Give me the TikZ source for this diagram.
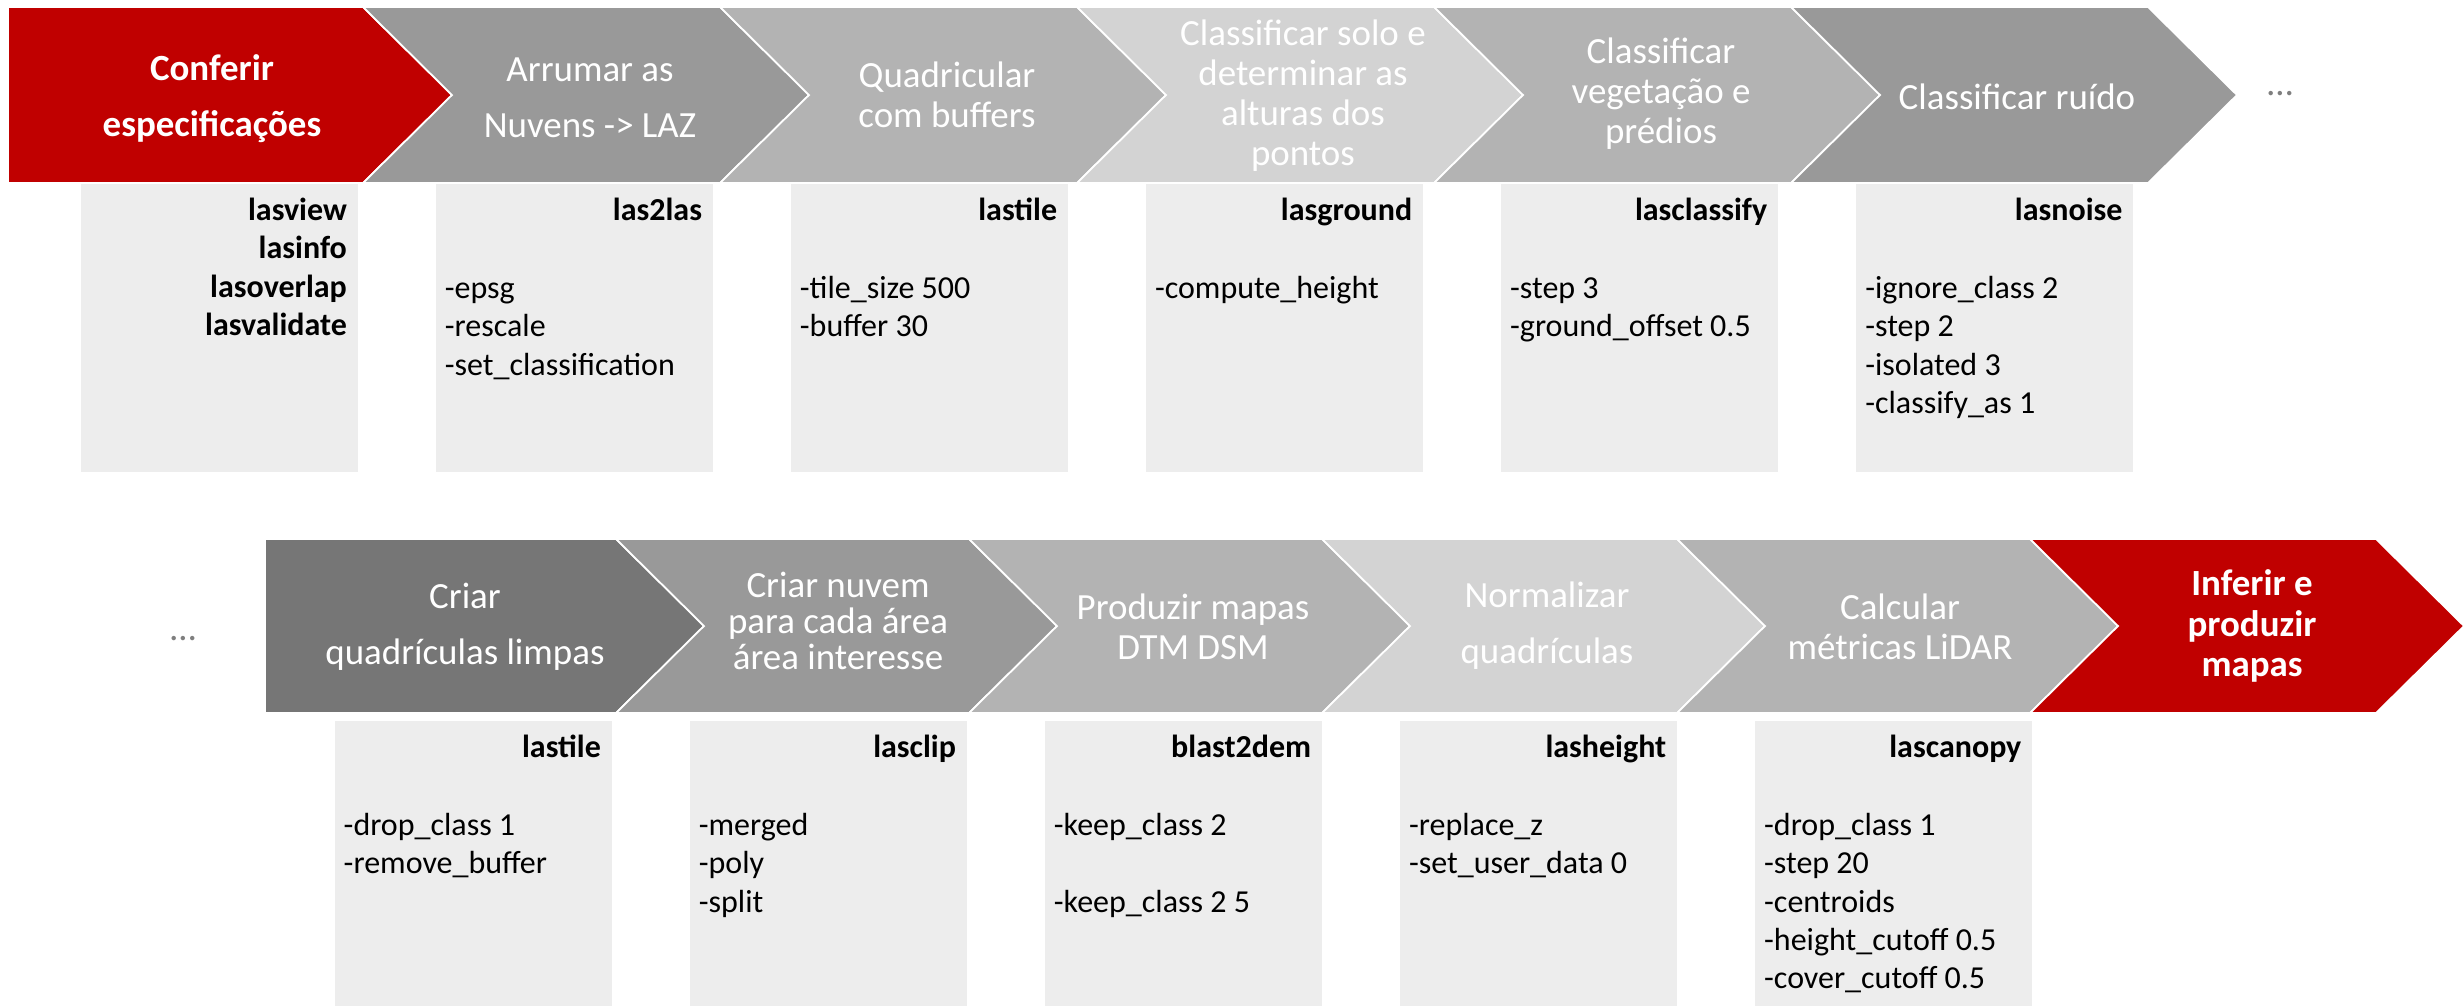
\documentclass[tikz,border=0pt]{standalone}
\usepackage{fontspec}
\setmainfont{Carlito}
\usetikzlibrary{positioning}
\definecolor{redstep}{HTML}{C00000}
\definecolor{darkstep}{HTML}{767676}
\definecolor{midstep}{HTML}{999999}
\definecolor{lightstep}{HTML}{B3B3B3}
\definecolor{palestep}{HTML}{D3D3D3}
\definecolor{boxgray}{HTML}{EDEDED}
\definecolor{dotgray}{HTML}{7F7F7F}

\begin{document}
\begin{tikzpicture}[x=0.01cm,y=0.01cm]
    \tikzstyle{chev}=[draw=white, line width=0.5pt]
    \tikzstyle{lab}=[align=center, text=white, inner sep=0pt, font=\fontsize{10.5pt}{11.4pt}\selectfont]
    \tikzstyle{labwide}=[lab, font=\fontsize{10.5pt}{15.9pt}\selectfont]
    \tikzstyle{box}=[fill=boxgray, inner sep=0pt, minimum width=2.77cm, minimum height=2.88cm]
    \tikzstyle{lowbox}=[box, minimum height=2.85cm]
    \tikzstyle{tool}=[align=right, inner sep=0pt, font=\fontsize{9.1pt}{10.9pt}\selectfont\bfseries]
    \tikzstyle{opts}=[align=left, inner sep=0pt, font=\fontsize{9.1pt}{10.9pt}\selectfont]
    \tikzstyle{dots}=[text=dotgray, inner sep=0pt, font=\fontsize{10.5pt}{11.4pt}\selectfont]

    \useasboundingbox (0,0) rectangle (2464,-1005);

    % first row of steps
    \filldraw[chev, fill=redstep] (8,-7) -- (363,-7) -- (452,-95) -- (363,-183) -- (8,-183) -- cycle;
    \filldraw[chev, fill=midstep] (363,-7) -- (720,-7) -- (809,-95) -- (720,-183) -- (363,-183) -- (452,-95) -- cycle;
    \filldraw[chev, fill=lightstep] (720,-7) -- (1077,-7) -- (1166,-95) -- (1077,-183) -- (720,-183) -- (809,-95) -- cycle;
    \filldraw[chev, fill=palestep] (1077,-7) -- (1434,-7) -- (1523,-95) -- (1434,-183) -- (1077,-183) -- (1166,-95) -- cycle;
    \filldraw[chev, fill=lightstep] (1434,-7) -- (1791,-7) -- (1880,-95) -- (1791,-183) -- (1434,-183) -- (1523,-95) -- cycle;
    \filldraw[chev, fill=midstep] (1791,-7) -- (2148,-7) -- (2237,-95) -- (2148,-183) -- (1791,-183) -- (1880,-95) -- cycle;

    \node[labwide, font=\fontsize{10.5pt}{15.9pt}\selectfont\bfseries] (conferir) at (212,-99) {Conferir\\especificações};
    \node[labwide] (arrumar) at (590,-98) {Arrumar as\\Nuvens -> LAZ};
    \node[lab] (quadricular) at (947,-95) {Quadricular\\com buffers};
    \node[lab] (solo) at (1303,-96) {Classificar solo e\\determinar  as\\alturas dos\\pontos};
    \node[lab] (vegetacao) at (1661,-94) {Classificar\\vegetação e\\prédios};
    \node[lab] (ruido) at (2017,-97) {Classificar ruído};
    \node[dots] (more1) at (2280,-94) {\dots};

    \node[box, anchor=north west] (b1) at (80,-183) {};
    \node[box] (b2) [right=0.765cm of b1] {};
    \node[box] (b3) [right=0.765cm of b2] {};
    \node[box] (b4) [right=0.765cm of b3] {};
    \node[box] (b5) [right=0.765cm of b4] {};
    \node[box] (b6) [right=0.765cm of b5] {};

    \node[tool] (t1) [below left=0.1cm and 0.11cm of b1.north east] {\strut lasview\\lasinfo\\lasoverlap\\lasvalidate};
    \node[tool] (t2) [below left=0.1cm and 0.11cm of b2.north east] {\strut las2las};
    \node[tool] (t3) [below left=0.1cm and 0.11cm of b3.north east] {\strut lastile};
    \node[tool] (t4) [below left=0.1cm and 0.11cm of b4.north east] {\strut lasground};
    \node[tool] (t5) [below left=0.1cm and 0.11cm of b5.north east] {\strut lasclassify};
    \node[tool] (t6) [below left=0.1cm and 0.11cm of b6.north east] {\strut lasnoise};

    \node[opts] (o2) [below right=0.88cm and 0.09cm of b2.north west] {\strut-epsg\\-rescale\\-set\_classification};
    \node[opts] (o3) [below right=0.88cm and 0.09cm of b3.north west] {\strut-tile\_size 500\\-buffer 30};
    \node[opts] (o4) [below right=0.88cm and 0.09cm of b4.north west] {\strut-compute\_height};
    \node[opts] (o5) [below right=0.88cm and 0.09cm of b5.north west] {\strut-step 3\\-ground\_offset 0.5};
    \node[opts] (o6) [below right=0.88cm and 0.09cm of b6.north west] {\strut-ignore\_class 2\\-step 2\\-isolated 3\\-classify\_as 1};

    % second row of steps
    \filldraw[chev, fill=darkstep] (265,-539) -- (616,-539) -- (704,-626) -- (616,-713) -- (265,-713) -- cycle;
    \filldraw[chev, fill=midstep] (616,-539) -- (969,-539) -- (1057,-626) -- (969,-713) -- (616,-713) -- (704,-626) -- cycle;
    \filldraw[chev, fill=lightstep] (969,-539) -- (1322,-539) -- (1410,-626) -- (1322,-713) -- (969,-713) -- (1057,-626) -- cycle;
    \filldraw[chev, fill=palestep] (1322,-539) -- (1677,-539) -- (1765,-626) -- (1677,-713) -- (1322,-713) -- (1410,-626) -- cycle;
    \filldraw[chev, fill=lightstep] (1677,-539) -- (2030,-539) -- (2118,-626) -- (2030,-713) -- (1677,-713) -- (1765,-626) -- cycle;
    \filldraw[chev, fill=redstep] (2030,-539) -- (2376,-539) -- (2464,-626) -- (2376,-713) -- (2030,-713) -- (2118,-626) -- cycle;

    \node[dots] (more2) at (183,-639) {\dots};
    \node[labwide] (limpas) at (465,-627) {Criar\\quadrículas limpas};
    \node[lab, font=\fontsize{10.5pt}{10.3pt}\selectfont] (nuvem) at (838,-621) {Criar nuvem\\para cada área\\área interesse};
    \node[lab] (produzir) at (1193,-627) {Produzir mapas\\DTM DSM};
    \node[labwide] (normalizar) at (1547,-626) {Normalizar\\quadrículas};
    \node[lab] (calcular) at (1900,-627) {Calcular\\métricas LiDAR};
    \node[lab, font=\fontsize{10.5pt}{11.4pt}\selectfont\bfseries] (inferir) at (2252,-626) {Inferir e\\produzir\\mapas};

    \node[lowbox, anchor=north west] (c1) at (334,-720) {};
    \node[lowbox] (c2) [right=0.765cm of c1] {};
    \node[lowbox] (c3) [right=0.765cm of c2] {};
    \node[lowbox] (c4) [right=0.765cm of c3] {};
    \node[lowbox] (c5) [right=0.765cm of c4] {};

    \node[tool] (u1) [below left=0.1cm and 0.11cm of c1.north east] {\strut lastile};
    \node[tool] (u2) [below left=0.1cm and 0.11cm of c2.north east] {\strut lasclip};
    \node[tool] (u3) [below left=0.1cm and 0.11cm of c3.north east] {\strut blast2dem};
    \node[tool] (u4) [below left=0.1cm and 0.11cm of c4.north east] {\strut lasheight};
    \node[tool] (u5) [below left=0.1cm and 0.11cm of c5.north east] {\strut lascanopy};

    \node[opts] (p1) [below right=0.88cm and 0.09cm of c1.north west] {\strut-drop\_class 1\\-remove\_buffer};
    \node[opts] (p2) [below right=0.88cm and 0.09cm of c2.north west] {\strut-merged\\-poly\\-split};
    \node[opts] (p3) [below right=0.88cm and 0.09cm of c3.north west] {\strut-keep\_class 2\\[10.9pt]-keep\_class 2 5};
    \node[opts] (p4) [below right=0.88cm and 0.09cm of c4.north west] {\strut-replace\_z\\-set\_user\_data 0};
    \node[opts] (p5) [below right=0.88cm and 0.09cm of c5.north west] {\strut-drop\_class 1\\-step 20\\-centroids\\-height\_cutoff 0.5\\-cover\_cutoff 0.5};
\end{tikzpicture}
\end{document}
